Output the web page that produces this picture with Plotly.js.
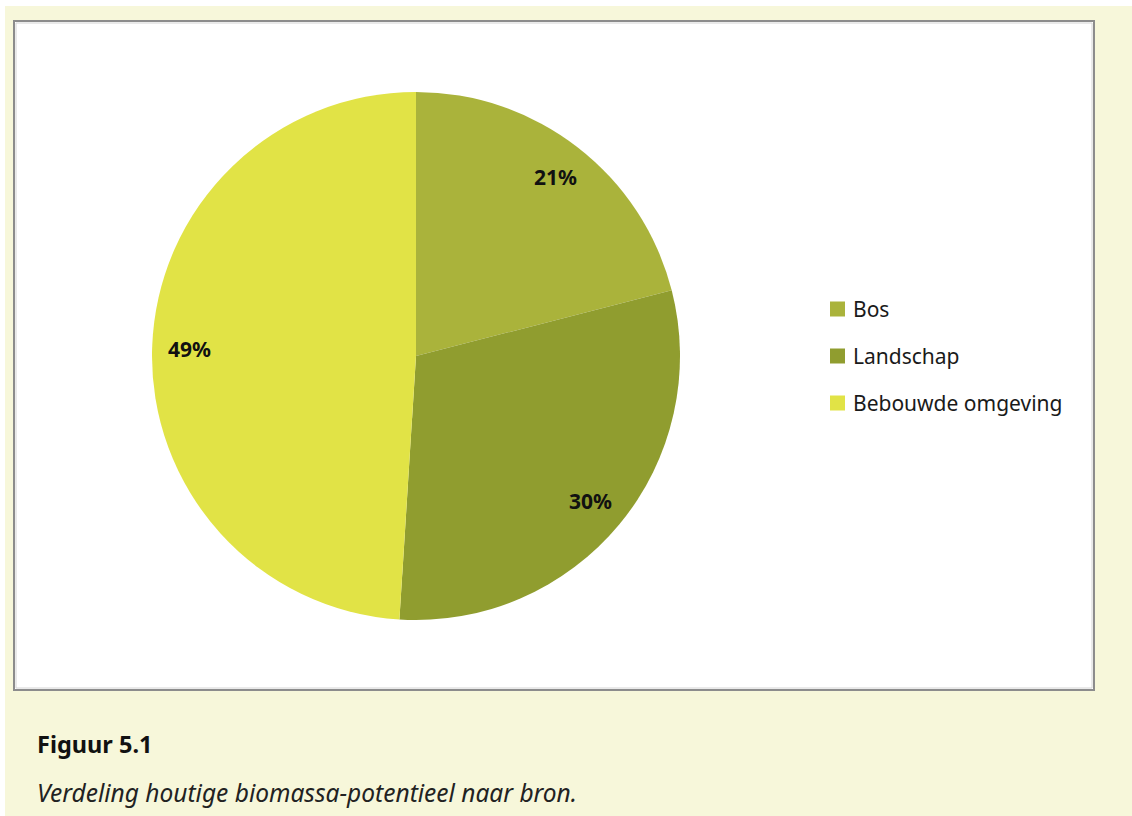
<!DOCTYPE html>
<html>
<head>
<meta charset="utf-8">
<script src="https://cdn.plot.ly/plotly-3.0.1.min.js"></script>
<style>html,body{margin:0;padding:0;background:#fff;}#chart{width:1132px;height:816px;}</style>
</head>
<body>
<div id="chart"></div>
<script>
const labels = ["Bos", "Landschap", "Bebouwde omgeving"];
const values = [21, 30, 49];
const sliceColors = ["#aab33b", "#909d2f", "#e1e346"];
const captionTitle = "Figuur 5.1";
const captionText = "Verdeling houtige biomassa-potentieel naar bron.";

const W = 1132, H = 816;
const px = x => x / W;
const py = y => 1 - y / H;
const cx = 416, cy = 356, R = 264;

const total = values.reduce((a, b) => a + b, 0);
const shapes = [
  {type: "rect", xref: "paper", yref: "paper", x0: px(5), x1: 1, y0: 0, y1: py(6), fillcolor: "#f7f7da", line: {width: 0}, layer: "below"},
  {type: "rect", xref: "paper", yref: "paper", x0: px(14), x1: px(1094), y0: py(690), y1: py(21), fillcolor: "#ffffff", line: {color: "#8c8c8c", width: 2}, layer: "below"},
  {type: "rect", xref: "paper", yref: "paper", x0: px(16), x1: px(1092), y0: py(688), y1: py(23), fillcolor: "rgba(0,0,0,0)", line: {color: "#d4d4d4", width: 1}, layer: "below"}
];
const annotations = [];
let cum = 0;
values.forEach((v, i) => {
  const mid = (cum + v / 2) / total * 2 * Math.PI;
  cum += v;
  const r = 0.86 * R;
  annotations.push({
    xref: "paper", yref: "paper",
    x: px(cx + r * Math.sin(mid)), y: py(cy - r * Math.cos(mid)),
    text: "<b>" + Math.round(v / total * 100) + "%</b>",
    showarrow: false, xanchor: "center", yanchor: "middle",
    font: {family: "Noto Sans, sans-serif", size: 21, color: "#111"}
  });
  // legend
  const ly = 309 + i * 47;
  shapes.push({type: "rect", xref: "paper", yref: "paper", x0: px(830), x1: px(845), y0: py(ly + 7.5), y1: py(ly - 7.5), fillcolor: sliceColors[i], line: {width: 0}});
  annotations.push({
    xref: "paper", yref: "paper", x: px(851), y: py(ly), text: labels[i],
    showarrow: false, xanchor: "left", yanchor: "middle",
    font: {family: "Noto Sans, sans-serif", size: 21, color: "#1a1a1a"}
  });
});
annotations.push({xref: "paper", yref: "paper", x: px(35), y: py(744), text: "<b>" + captionTitle + "</b>", showarrow: false, xanchor: "left", yanchor: "middle", font: {family: "Noto Sans, sans-serif", size: 23.5, color: "#111"}});
annotations.push({xref: "paper", yref: "paper", x: px(35), y: py(792), text: "<i>" + captionText + "</i>", showarrow: false, xanchor: "left", yanchor: "middle", font: {family: "Noto Sans, sans-serif", size: 24.5, color: "#222"}});

const data = [{
  type: "pie",
  labels: labels,
  values: values,
  sort: false,
  direction: "clockwise",
  rotation: 0,
  marker: {colors: sliceColors, line: {width: 0}},
  textinfo: "none",
  hoverinfo: "label+percent",
  showlegend: false,
  domain: {x: [px(cx - R), px(cx + R)], y: [py(cy + R), py(cy - R)]}
}];
const layout = {
  width: W, height: H,
  margin: {l: 0, r: 0, t: 0, b: 0},
  paper_bgcolor: "#ffffff",
  showlegend: false,
  shapes: shapes,
  annotations: annotations
};
Plotly.newPlot("chart", data, layout, {displayModeBar: false});
</script>
</body>
</html>
